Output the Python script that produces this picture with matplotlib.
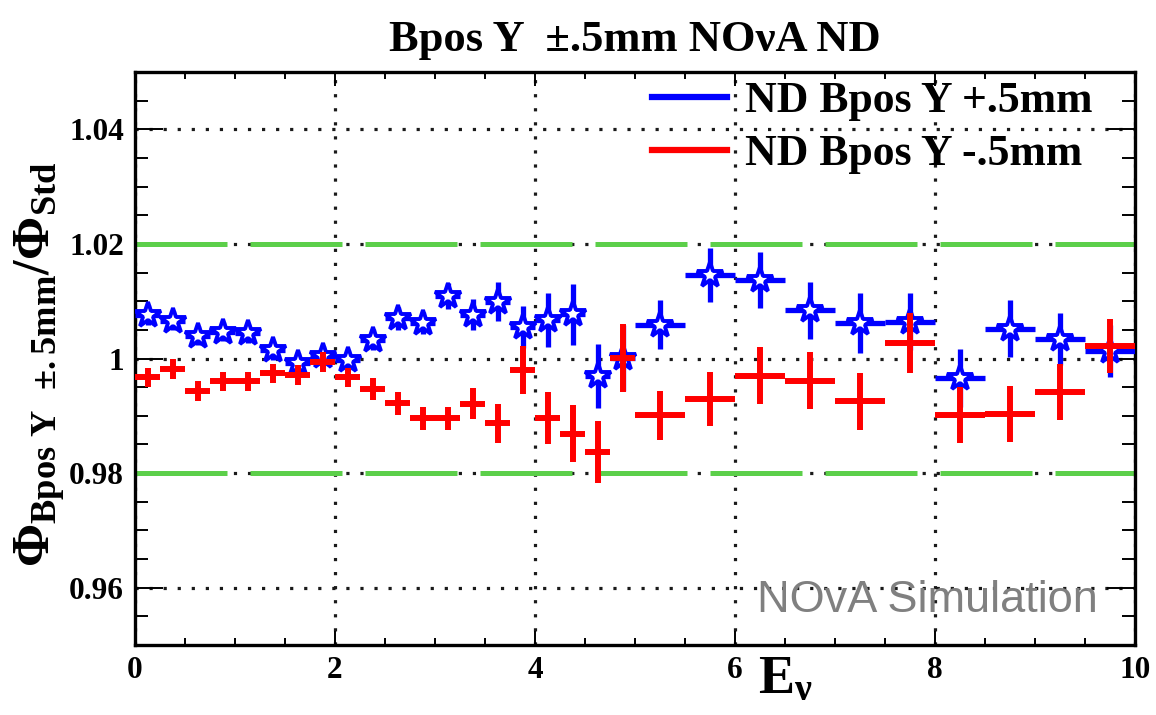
import matplotlib
matplotlib.use("Agg")
import matplotlib.pyplot as plt
import numpy as np
from matplotlib.lines import Line2D
from matplotlib.ticker import MultipleLocator

# Energy binning (GeV): 0.25 GeV bins up to 5 GeV, 0.5 GeV bins above
bin_edges = [0.0, 0.25, 0.5, 0.75, 1.0, 1.25, 1.5, 1.75, 2.0, 2.25, 2.5,
             2.75, 3.0, 3.25, 3.5, 3.75, 4.0, 4.25, 4.5, 4.75, 5.0,
             5.5, 6.0, 6.5, 7.0, 7.5, 8.0, 8.5, 9.0, 9.5, 10.0]

# Flux ratio for beam position Y shifted by +0.5 mm
ratio_plus = [1.0076, 1.0066, 1.0040, 1.0047, 1.0044, 1.0014, 0.9993, 1.0005,
              0.9997, 1.0033, 1.0070, 1.0062, 1.0109, 1.0076, 1.0099, 1.0055,
              1.0067, 1.0077, 0.9969, 1.0001,
              1.0059, 1.0145, 1.0137, 1.0084, 1.0062, 1.0064, 0.9966, 1.0052,
              1.0034, 1.0013]
err_plus = [0.0017, 0.0017, 0.0017, 0.0017, 0.0017, 0.0017, 0.0017, 0.0017,
            0.0017, 0.0019, 0.0020, 0.0020, 0.0022, 0.0027, 0.0034, 0.0036,
            0.0047, 0.0053, 0.0056, 0.0058,
            0.0043, 0.0047, 0.0049, 0.0050, 0.0052, 0.0050, 0.0050, 0.0050,
            0.0046, 0.0046]

# Flux ratio for beam position Y shifted by -0.5 mm
ratio_minus = [0.9967, 0.9982, 0.9943, 0.9960, 0.9960, 0.9974, 0.9971, 0.9994,
               0.9967, 0.9947, 0.9922, 0.9896, 0.9896, 0.9921, 0.9887, 0.9980,
               0.9896, 0.9869, 0.9837, 1.0001,
               0.9901, 0.9929, 0.9970, 0.9961, 0.9925, 1.0027, 0.9902, 0.9903,
               0.9941, 1.0022]
err_minus = [0.0017, 0.0017, 0.0017, 0.0016, 0.0016, 0.0017, 0.0017, 0.0017,
             0.0017, 0.0019, 0.0020, 0.0020, 0.0020, 0.0027, 0.0034, 0.0042,
             0.0046, 0.0050, 0.0054, 0.0059,
             0.0043, 0.0047, 0.0050, 0.0050, 0.0050, 0.0052, 0.0049, 0.0049,
             0.0049, 0.0047]

band_levels = [0.98, 1.02]
legend_labels = ["ND Bpos Y +.5mm", "ND Bpos Y -.5mm"]

edges = np.asarray(bin_edges)
centers = 0.5 * (edges[:-1] + edges[1:])
half_width = 0.5 * np.diff(edges)

serif = "Liberation Serif"
plt.rcParams["font.family"] = [serif, "DejaVu Serif"]
plt.rcParams["font.weight"] = "bold"
plt.rcParams["mathtext.fontset"] = "custom"
plt.rcParams["mathtext.rm"] = "Liberation Serif:bold"
plt.rcParams["mathtext.it"] = "Liberation Serif:bold"
plt.rcParams["mathtext.bf"] = "Liberation Serif:bold"

W, H = 1156, 715
fig = plt.figure(figsize=(W / 100, H / 100), dpi=100)
ax = fig.add_axes([135 / W, 70 / H, 1000 / W, 573 / H])

ax.set_xlim(0, 10)
ax.set_ylim(0.95, 1.05)

# dotted grid at major ticks
grid_style = dict(color="#1a1a1a", linewidth=2.3, linestyle=(0, (1, 3.4)))
ax.xaxis.set_major_locator(MultipleLocator(2))
ax.xaxis.set_minor_locator(MultipleLocator(0.5))
ax.yaxis.set_major_locator(MultipleLocator(0.02))
ax.yaxis.set_minor_locator(MultipleLocator(0.005))
ax.grid(True, which="major", **grid_style)
ax.set_axisbelow(True)

# +/-2% reference band
for lvl in band_levels:
    ax.axhline(lvl, color="#5ccf4a", linewidth=3.6,
               linestyle=(0, (18.4, 4.6)), zorder=1.5)

ax.errorbar(centers, ratio_plus, xerr=half_width, yerr=err_plus,
            fmt="*", color="#0000ff", ecolor="#0000ff", elinewidth=3.8,
            markersize=19, markeredgewidth=2.8, markerfacecolor="white",
            markeredgecolor="#0000ff", capsize=0, zorder=3)
ax.errorbar(centers, ratio_minus, xerr=half_width, yerr=err_minus,
            fmt="none", ecolor="#ff0000", elinewidth=4.3, capsize=0, zorder=4)

for side in ax.spines.values():
    side.set_linewidth(2.4)
ax.tick_params(axis="both", which="both", direction="in", top=True,
               right=True, width=1.4)
ax.tick_params(axis="y", which="major", length=20)
ax.tick_params(axis="y", which="minor", length=9.5)
ax.tick_params(axis="x", which="major", length=10)
ax.tick_params(axis="x", which="minor", length=5)
ax.tick_params(axis="both", which="major", labelsize=22.5, pad=8)

ax.set_xticks([0, 2, 4, 6, 8, 10])
ax.set_xticklabels(["0", "2", "4", "6", "8", "10"])
ax.set_yticks([0.96, 0.98, 1.0, 1.02, 1.04])
ax.set_yticklabels(["0.96", "0.98", "1", "1.02", "1.04"])

ax.set_xlabel(r"$\mathrm{E}_{\nu}$", fontsize=39)
ax.xaxis.set_label_coords(0.65, -0.015, transform=ax.transAxes)
ax.xaxis.label.set_va("top")
ax.set_ylabel(r"$\Phi_{\mathrm{Bpos\ Y\ \ {\pm}.5mm}}/\Phi_{\mathrm{Std}}$",
              fontsize=37.5)
ax.yaxis.set_label_coords(-0.068, 0.49, transform=ax.transAxes)

fig.text(635 / W, 1 - 40 / H, "Bpos Y  \u00b1.5mm NO\u03bdA ND",
         ha="center", va="center", fontsize=32, fontweight="bold")

handles = [Line2D([], [], color="#0000ff", linewidth=4.5),
           Line2D([], [], color="#ff0000", linewidth=4.5)]
ax.legend(handles, legend_labels, loc="upper left",
          bbox_to_anchor=(652 / W, 1 - 81 / H), bbox_transform=fig.transFigure,
          frameon=False, fontsize=31.5, handlelength=1.72, handletextpad=0.4,
          labelspacing=0.3, borderpad=0, borderaxespad=0)

fig.text(757 / W, 1 - 600 / H, "NOvA Simulation", ha="left", va="center",
         fontsize=32.5, color="#808080", family="Liberation Sans",
         fontweight="normal")

fig.savefig("out.png", dpi=100)
